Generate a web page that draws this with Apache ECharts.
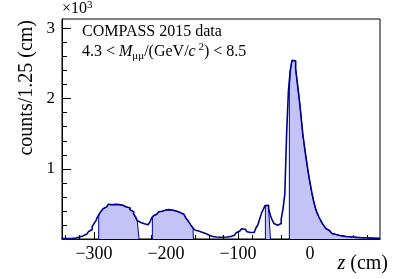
<!DOCTYPE html>
<html>
<head>
<meta charset="UTF-8">
<title>COMPASS 2015 z distribution</title>
<style>
    * { margin: 0; padding: 0; }
    #chart { width: 395px; height: 279px; background: #fff; }
</style>
</head>
<body>
<div id="chart"></div>
<script src="https://cdn.jsdelivr.net/npm/echarts@6/dist/echarts.min.js"></script>
<script>
    // histogram: 2.5 cm bins starting at -345 cm
    var binStart = -345;
    var binWidth = 2.5;
    var counts = [
        5, 5, 6, 7, 8, 9, 11, 14, 20, 28,
        37, 46, 57, 70, 88, 108, 135, 178, 220, 258,
        320, 362, 398, 430, 458, 478, 495, 488, 502, 494,
        482, 490, 476, 482, 465, 455, 450, 444, 415, 390,
        355, 318, 262, 236, 225, 216, 210, 203, 212, 238,
        298, 330, 355, 375, 388, 395, 402, 415, 410, 418,
        405, 410, 398, 396, 385, 376, 364, 350, 326, 300,
        268, 230, 190, 158, 128, 115, 103, 95, 86, 77,
        68, 55, 42, 36, 31, 28, 26, 25, 25, 26,
        27, 29, 32, 36, 44, 52, 66, 90, 115, 132,
        146, 140, 128, 104, 92, 84, 95, 122, 160, 200,
        282, 365, 420, 475, 480, 430, 335, 268, 220, 195,
        198, 220, 285, 430, 640, 1500, 2110, 2400, 2545, 2540,
        2430, 2210, 2000, 1750, 1490, 1300, 1120, 950, 800, 660,
        540, 440, 368, 310, 260, 215, 178, 145, 118, 96,
        80, 68, 60, 54, 49, 44, 40, 36, 33, 31,
        29, 27, 25, 23, 22, 20, 19, 18, 16, 15,
        14, 13, 12, 11, 10, 9, 8
    ];
    // target cells (shaded), cm
    var cells = [[-293.5, -237.5], [-219, -162], [-62, -55], [-28.7, 97.5]];

    var xMajor = [-300, -200, -100, 0];
    var xMinor = [-340, -320, -280, -260, -240, -220, -180, -160, -140, -120,
                  -80, -60, -40, -20, 20, 40, 60, 80];
    var yMajor = [1000, 2000, 3000];
    var yMinor = [200, 400, 600, 800, 1200, 1400, 1600, 1800,
                  2200, 2400, 2600, 2800];

    var lineColor = '#000090';
    var fillColor = '#c3c3f8';
    var serif = '"Liberation Serif", "DejaVu Serif", serif';

    function histData() {
        var d = [];
        for (var i = 0; i < counts.length; i++) {
            d.push([binStart + i * binWidth, counts[i]]);
        }
        d.push([binStart + counts.length * binWidth, counts[counts.length - 1]]);
        return d;
    }

    function cellData(a, b) {
        var d = [[a, 0]];
        var last = 0;
        for (var i = 0; i < counts.length; i++) {
            var lo = binStart + i * binWidth;
            var hi = lo + binWidth;
            if (hi <= a || lo >= b) continue;
            d.push([Math.max(lo, a), counts[i]]);
            last = counts[i];
        }
        d.push([b, last]);
        d.push([b, 0]);
        return d;
    }

    var series = cells.map(function (c) {
        return {
            type: 'line',
            step: 'end',
            symbol: 'none',
            data: cellData(c[0], c[1]),
            lineStyle: { color: lineColor, width: 1 },
            areaStyle: { color: fillColor, opacity: 1 },
            z: 2
        };
    });
    series.push({
        type: 'line',
        step: 'end',
        symbol: 'none',
        data: histData(),
        lineStyle: { color: lineColor, width: 1.6 },
        z: 3
    });

    var xMin = -344.5, xMax = 97.2, yMax = 3135;

    var myChart = echarts.init(document.getElementById('chart'));
    myChart.setOption({
        animation: false,
        grid: {
            left: 62, right: 15, top: 19, bottom: 40,
            show: true, borderColor: '#000', borderWidth: 1,
            backgroundColor: 'transparent'
        },
        xAxis: [{
            type: 'value', min: xMin, max: xMax, position: 'bottom',
            axisLine: { onZero: false, lineStyle: { color: '#000', width: 1 } },
            axisTick: { inside: true, length: 7, customValues: xMajor, lineStyle: { color: '#000' } },
            axisLabel: {
                customValues: xMajor, margin: 6, color: '#000',
                fontFamily: serif, fontSize: 18,
                formatter: function (v) { return v < 0 ? '\u2212' + (-v) : String(v); }
            },
            splitLine: { show: false }
        }, {
            type: 'value', min: xMin, max: xMax, position: 'bottom',
            axisLine: { show: false, onZero: false },
            axisTick: { inside: true, length: 4, customValues: xMinor, lineStyle: { color: '#000' } },
            axisLabel: { show: false },
            splitLine: { show: false }
        }],
        yAxis: [{
            type: 'value', min: 0, max: yMax, position: 'left',
            axisLine: { show: true, onZero: false, lineStyle: { color: '#000', width: 1 } },
            axisTick: { show: true, inside: true, length: 9, customValues: yMajor, lineStyle: { color: '#000' } },
            axisLabel: {
                customValues: yMajor, margin: 7, color: '#000',
                fontFamily: serif, fontSize: 17,
                formatter: function (v) { return String(v / 1000); }
            },
            splitLine: { show: false }
        }, {
            type: 'value', min: 0, max: yMax, position: 'left',
            axisLine: { show: false, onZero: false },
            axisTick: { show: true, inside: true, length: 5, customValues: yMinor, lineStyle: { color: '#000' } },
            axisLabel: { show: false },
            splitLine: { show: false }
        }],
        series: series,
        graphic: [{
            type: 'text', x: 62, y: 0,
            style: {
                text: '\u00d710{s|3}', fill: '#000',
                font: '16px ' + serif, lineHeight: 18,
                rich: { s: { fontSize: 11, fontFamily: serif, verticalAlign: 'top', lineHeight: 18 } }
            }
        }, {
            type: 'text', x: 82, y: 24,
            style: { text: 'COMPASS 2015 data', fill: '#000', font: '16px ' + serif }
        }, {
            type: 'text', x: 82, y: 42,
            style: {
                text: '4.3 < {i|M}{sub|\u03bc\u03bc}/(GeV/{i|c}{sup| 2}) < 8.5',
                fill: '#000', font: '16px ' + serif, lineHeight: 20,
                rich: {
                    i: { fontStyle: 'italic', fontSize: 16, fontFamily: serif, lineHeight: 20 },
                    sub: { fontSize: 11, fontFamily: serif, verticalAlign: 'bottom', lineHeight: 20 },
                    sup: { fontSize: 11, fontFamily: serif, verticalAlign: 'top', lineHeight: 20 }
                }
            }
        }, {
            type: 'text', x: 27, y: 20, rotation: Math.PI / 2,
            style: {
                text: 'counts/1.25 (cm)', fill: '#000', font: '20px ' + serif,
                align: 'right', verticalAlign: 'middle'
            }
        }, {
            type: 'text', x: 388, y: 264,
            style: {
                text: '{i|z} (cm)', fill: '#000', font: '20px ' + serif,
                align: 'right', verticalAlign: 'middle',
                rich: { i: { fontStyle: 'italic', fontSize: 20, fontFamily: serif } }
            }
        }]
    });
</script>
</body>
</html>
